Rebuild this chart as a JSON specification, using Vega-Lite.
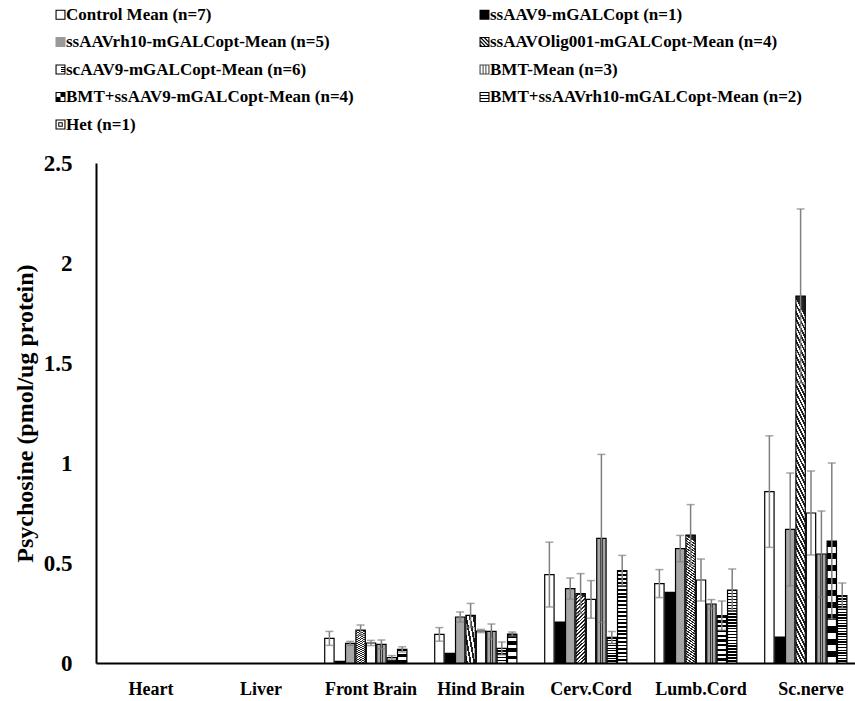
{
  "$schema": "https://vega.github.io/schema/vega-lite/v6.json",
  "width": 757,
  "height": 500,
  "autosize": {"type": "none"},
  "padding": {"left": 96, "top": 163, "right": 2, "bottom": 38},
  "background": "white",
  "config": {"font": "Liberation Serif", "view": {"stroke": null}},
  "data": {"values": [
    {"tissue": "Front Brain", "group": "Control Mean (n=7)", "mean": 0.123, "lo": 0.088, "hi": 0.158},
    {"tissue": "Front Brain", "group": "ssAAV9-mGALCopt (n=1)", "mean": 0.008},
    {"tissue": "Front Brain", "group": "ssAAVrh10-mGALCopt-Mean (n=5)", "mean": 0.098, "lo": 0.088, "hi": 0.108},
    {"tissue": "Front Brain", "group": "ssAAVOlig001-mGALCopt-Mean (n=4)", "mean": 0.165, "lo": 0.14, "hi": 0.19},
    {"tissue": "Front Brain", "group": "scAAV9-mGALCopt-Mean (n=6)", "mean": 0.1, "lo": 0.087, "hi": 0.113},
    {"tissue": "Front Brain", "group": "BMT-Mean (n=3)", "mean": 0.093, "lo": 0.071, "hi": 0.115},
    {"tissue": "Front Brain", "group": "BMT+ssAAV9-mGALCopt-Mean (n=4)", "mean": 0.027, "lo": 0.017, "hi": 0.037},
    {"tissue": "Front Brain", "group": "BMT+ssAAVrh10-mGALCopt-Mean (n=2)", "mean": 0.068, "lo": 0.055, "hi": 0.081},
    {"tissue": "Hind Brain", "group": "Control Mean (n=7)", "mean": 0.143, "lo": 0.109, "hi": 0.177},
    {"tissue": "Hind Brain", "group": "ssAAV9-mGALCopt (n=1)", "mean": 0.048},
    {"tissue": "Hind Brain", "group": "ssAAVrh10-mGALCopt-Mean (n=5)", "mean": 0.23, "lo": 0.205, "hi": 0.255},
    {"tissue": "Hind Brain", "group": "ssAAVOlig001-mGALCopt-Mean (n=4)", "mean": 0.238, "lo": 0.178, "hi": 0.298},
    {"tissue": "Hind Brain", "group": "scAAV9-mGALCopt-Mean (n=6)", "mean": 0.16, "lo": 0.152, "hi": 0.168},
    {"tissue": "Hind Brain", "group": "BMT-Mean (n=3)", "mean": 0.158, "lo": 0.121, "hi": 0.195},
    {"tissue": "Hind Brain", "group": "BMT+ssAAV9-mGALCopt-Mean (n=4)", "mean": 0.073, "lo": 0.041, "hi": 0.105},
    {"tissue": "Hind Brain", "group": "BMT+ssAAVrh10-mGALCopt-Mean (n=2)", "mean": 0.145, "lo": 0.135, "hi": 0.155},
    {"tissue": "Cerv.Cord", "group": "Control Mean (n=7)", "mean": 0.442, "lo": 0.28, "hi": 0.604},
    {"tissue": "Cerv.Cord", "group": "ssAAV9-mGALCopt (n=1)", "mean": 0.205},
    {"tissue": "Cerv.Cord", "group": "ssAAVrh10-mGALCopt-Mean (n=5)", "mean": 0.372, "lo": 0.319, "hi": 0.425},
    {"tissue": "Cerv.Cord", "group": "ssAAVOlig001-mGALCopt-Mean (n=4)", "mean": 0.347, "lo": 0.247, "hi": 0.447},
    {"tissue": "Cerv.Cord", "group": "scAAV9-mGALCopt-Mean (n=6)", "mean": 0.318, "lo": 0.224, "hi": 0.412},
    {"tissue": "Cerv.Cord", "group": "BMT-Mean (n=3)", "mean": 0.623, "lo": 0.203, "hi": 1.043},
    {"tissue": "Cerv.Cord", "group": "BMT+ssAAV9-mGALCopt-Mean (n=4)", "mean": 0.128, "lo": 0.098, "hi": 0.158},
    {"tissue": "Cerv.Cord", "group": "BMT+ssAAVrh10-mGALCopt-Mean (n=2)", "mean": 0.462, "lo": 0.386, "hi": 0.538},
    {"tissue": "Lumb.Cord", "group": "Control Mean (n=7)", "mean": 0.397, "lo": 0.327, "hi": 0.467},
    {"tissue": "Lumb.Cord", "group": "ssAAV9-mGALCopt (n=1)", "mean": 0.353},
    {"tissue": "Lumb.Cord", "group": "ssAAVrh10-mGALCopt-Mean (n=5)", "mean": 0.572, "lo": 0.506, "hi": 0.638},
    {"tissue": "Lumb.Cord", "group": "ssAAVOlig001-mGALCopt-Mean (n=4)", "mean": 0.64, "lo": 0.488, "hi": 0.792},
    {"tissue": "Lumb.Cord", "group": "scAAV9-mGALCopt-Mean (n=6)", "mean": 0.415, "lo": 0.31, "hi": 0.52},
    {"tissue": "Lumb.Cord", "group": "BMT-Mean (n=3)", "mean": 0.295, "lo": 0.273, "hi": 0.317},
    {"tissue": "Lumb.Cord", "group": "BMT+ssAAV9-mGALCopt-Mean (n=4)", "mean": 0.237, "lo": 0.164, "hi": 0.31},
    {"tissue": "Lumb.Cord", "group": "BMT+ssAAVrh10-mGALCopt-Mean (n=2)", "mean": 0.365, "lo": 0.26, "hi": 0.47},
    {"tissue": "Sc.nerve", "group": "Control Mean (n=7)", "mean": 0.857, "lo": 0.578, "hi": 1.136},
    {"tissue": "Sc.nerve", "group": "ssAAV9-mGALCopt (n=1)", "mean": 0.13},
    {"tissue": "Sc.nerve", "group": "ssAAVrh10-mGALCopt-Mean (n=5)", "mean": 0.668, "lo": 0.386, "hi": 0.95},
    {"tissue": "Sc.nerve", "group": "ssAAVOlig001-mGALCopt-Mean (n=4)", "mean": 1.835, "lo": 1.4, "hi": 2.27},
    {"tissue": "Sc.nerve", "group": "scAAV9-mGALCopt-Mean (n=6)", "mean": 0.75, "lo": 0.54, "hi": 0.96},
    {"tissue": "Sc.nerve", "group": "BMT-Mean (n=3)", "mean": 0.545, "lo": 0.33, "hi": 0.76},
    {"tissue": "Sc.nerve", "group": "BMT+ssAAV9-mGALCopt-Mean (n=4)", "mean": 0.61, "lo": 0.22, "hi": 1.0},
    {"tissue": "Sc.nerve", "group": "BMT+ssAAVrh10-mGALCopt-Mean (n=2)", "mean": 0.337, "lo": 0.274, "hi": 0.4}
  ]},
  "encoding": {
    "x": {
      "field": "tissue", "type": "nominal", "sort": null,
      "scale": {"domain": ["Heart", "Liver", "Front Brain", "Hind Brain", "Cerv.Cord", "Lumb.Cord", "Sc.nerve"], "range": [0, 770], "paddingInner": 0.149, "paddingOuter": 0.0745},
      "axis": {"title": null, "labelAngle": 0, "ticks": false, "domainColor": "black", "domainWidth": 2, "labelFont": "Liberation Serif", "labelFontSize": 18, "labelFontWeight": "bold", "labelColor": "black", "labelPadding": 17}
    },
    "xOffset": {
      "field": "group", "type": "nominal", "sort": null,
      "scale": {"domain": ["Control Mean (n=7)", "ssAAV9-mGALCopt (n=1)", "ssAAVrh10-mGALCopt-Mean (n=5)", "ssAAVOlig001-mGALCopt-Mean (n=4)", "scAAV9-mGALCopt-Mean (n=6)", "BMT-Mean (n=3)", "BMT+ssAAV9-mGALCopt-Mean (n=4)", "BMT+ssAAVrh10-mGALCopt-Mean (n=2)", "Het (n=1)"], "paddingInner": 0.1, "paddingOuter": 0.05}
    }
  },
  "layer": [
    {
      "mark": {"type": "bar", "stroke": "black", "strokeWidth": 1.2},
      "encoding": {
        "y": {
          "field": "mean", "type": "quantitative",
          "scale": {"domain": [0, 2.5], "nice": false},
          "axis": {"title": "Psychosine (pmol/ug protein)", "values": [0, 0.5, 1, 1.5, 2, 2.5], "format": "~g", "grid": false, "ticks": false, "domainColor": "black", "domainWidth": 2, "labelFont": "Liberation Serif", "labelFontSize": 23, "labelFontWeight": "bold", "labelColor": "black", "labelPadding": 24, "titleFont": "Liberation Serif", "titleFontSize": 24, "titleFontWeight": "bold", "titleColor": "black", "titlePadding": 6}
        },
        "fill": {
          "condition": [
            {"test": "datum.group === 'ssAAV9-mGALCopt (n=1)'", "value": "#000000"},
            {"test": "datum.group === 'ssAAVrh10-mGALCopt-Mean (n=5)'", "value": "#a6a6a6"},
            {"test": "datum.group === 'ssAAVOlig001-mGALCopt-Mean (n=4)'", "value": {"gradient": "linear", "x1": 0.05, "y1": 0, "x2": 0, "y2": 1, "stops": [
                {"offset":0,"color":"#222"},{"offset":0.01,"color":"#222"},{"offset":0.01,"color":"#fff"},{"offset":0.02,"color":"#fff"},
                {"offset":0.02,"color":"#222"},{"offset":0.03,"color":"#222"},{"offset":0.03,"color":"#fff"},{"offset":0.04,"color":"#fff"},
                {"offset":0.04,"color":"#222"},{"offset":0.05,"color":"#222"},{"offset":0.05,"color":"#fff"},{"offset":0.06,"color":"#fff"},
                {"offset":0.06,"color":"#222"},{"offset":0.07,"color":"#222"},{"offset":0.07,"color":"#fff"},{"offset":0.08,"color":"#fff"},
                {"offset":0.08,"color":"#222"},{"offset":0.09,"color":"#222"},{"offset":0.09,"color":"#fff"},{"offset":0.1,"color":"#fff"},
                {"offset":0.1,"color":"#222"},{"offset":0.11,"color":"#222"},{"offset":0.11,"color":"#fff"},{"offset":0.12,"color":"#fff"},
                {"offset":0.12,"color":"#222"},{"offset":0.13,"color":"#222"},{"offset":0.13,"color":"#fff"},{"offset":0.14,"color":"#fff"},
                {"offset":0.14,"color":"#222"},{"offset":0.15,"color":"#222"},{"offset":0.15,"color":"#fff"},{"offset":0.16,"color":"#fff"},
                {"offset":0.16,"color":"#222"},{"offset":0.17,"color":"#222"},{"offset":0.17,"color":"#fff"},{"offset":0.18,"color":"#fff"},
                {"offset":0.18,"color":"#222"},{"offset":0.19,"color":"#222"},{"offset":0.19,"color":"#fff"},{"offset":0.2,"color":"#fff"},
                {"offset":0.2,"color":"#222"},{"offset":0.21,"color":"#222"},{"offset":0.21,"color":"#fff"},{"offset":0.22,"color":"#fff"},
                {"offset":0.22,"color":"#222"},{"offset":0.23,"color":"#222"},{"offset":0.23,"color":"#fff"},{"offset":0.24,"color":"#fff"},
                {"offset":0.24,"color":"#222"},{"offset":0.25,"color":"#222"},{"offset":0.25,"color":"#fff"},{"offset":0.26,"color":"#fff"},
                {"offset":0.26,"color":"#222"},{"offset":0.27,"color":"#222"},{"offset":0.27,"color":"#fff"},{"offset":0.28,"color":"#fff"},
                {"offset":0.28,"color":"#222"},{"offset":0.29,"color":"#222"},{"offset":0.29,"color":"#fff"},{"offset":0.3,"color":"#fff"},
                {"offset":0.3,"color":"#222"},{"offset":0.31,"color":"#222"},{"offset":0.31,"color":"#fff"},{"offset":0.32,"color":"#fff"},
                {"offset":0.32,"color":"#222"},{"offset":0.33,"color":"#222"},{"offset":0.33,"color":"#fff"},{"offset":0.34,"color":"#fff"},
                {"offset":0.34,"color":"#222"},{"offset":0.35,"color":"#222"},{"offset":0.35,"color":"#fff"},{"offset":0.36,"color":"#fff"},
                {"offset":0.36,"color":"#222"},{"offset":0.37,"color":"#222"},{"offset":0.37,"color":"#fff"},{"offset":0.38,"color":"#fff"},
                {"offset":0.38,"color":"#222"},{"offset":0.39,"color":"#222"},{"offset":0.39,"color":"#fff"},{"offset":0.4,"color":"#fff"},
                {"offset":0.4,"color":"#222"},{"offset":0.41,"color":"#222"},{"offset":0.41,"color":"#fff"},{"offset":0.42,"color":"#fff"},
                {"offset":0.42,"color":"#222"},{"offset":0.43,"color":"#222"},{"offset":0.43,"color":"#fff"},{"offset":0.44,"color":"#fff"},
                {"offset":0.44,"color":"#222"},{"offset":0.45,"color":"#222"},{"offset":0.45,"color":"#fff"},{"offset":0.46,"color":"#fff"},
                {"offset":0.46,"color":"#222"},{"offset":0.47,"color":"#222"},{"offset":0.47,"color":"#fff"},{"offset":0.48,"color":"#fff"},
                {"offset":0.48,"color":"#222"},{"offset":0.49,"color":"#222"},{"offset":0.49,"color":"#fff"},{"offset":0.5,"color":"#fff"},
                {"offset":0.5,"color":"#222"},{"offset":0.51,"color":"#222"},{"offset":0.51,"color":"#fff"},{"offset":0.52,"color":"#fff"},
                {"offset":0.52,"color":"#222"},{"offset":0.53,"color":"#222"},{"offset":0.53,"color":"#fff"},{"offset":0.54,"color":"#fff"},
                {"offset":0.54,"color":"#222"},{"offset":0.55,"color":"#222"},{"offset":0.55,"color":"#fff"},{"offset":0.56,"color":"#fff"},
                {"offset":0.56,"color":"#222"},{"offset":0.57,"color":"#222"},{"offset":0.57,"color":"#fff"},{"offset":0.58,"color":"#fff"},
                {"offset":0.58,"color":"#222"},{"offset":0.59,"color":"#222"},{"offset":0.59,"color":"#fff"},{"offset":0.6,"color":"#fff"},
                {"offset":0.6,"color":"#222"},{"offset":0.61,"color":"#222"},{"offset":0.61,"color":"#fff"},{"offset":0.62,"color":"#fff"},
                {"offset":0.62,"color":"#222"},{"offset":0.63,"color":"#222"},{"offset":0.63,"color":"#fff"},{"offset":0.64,"color":"#fff"},
                {"offset":0.64,"color":"#222"},{"offset":0.65,"color":"#222"},{"offset":0.65,"color":"#fff"},{"offset":0.66,"color":"#fff"},
                {"offset":0.66,"color":"#222"},{"offset":0.67,"color":"#222"},{"offset":0.67,"color":"#fff"},{"offset":0.68,"color":"#fff"},
                {"offset":0.68,"color":"#222"},{"offset":0.69,"color":"#222"},{"offset":0.69,"color":"#fff"},{"offset":0.7,"color":"#fff"},
                {"offset":0.7,"color":"#222"},{"offset":0.71,"color":"#222"},{"offset":0.71,"color":"#fff"},{"offset":0.72,"color":"#fff"},
                {"offset":0.72,"color":"#222"},{"offset":0.73,"color":"#222"},{"offset":0.73,"color":"#fff"},{"offset":0.74,"color":"#fff"},
                {"offset":0.74,"color":"#222"},{"offset":0.75,"color":"#222"},{"offset":0.75,"color":"#fff"},{"offset":0.76,"color":"#fff"},
                {"offset":0.76,"color":"#222"},{"offset":0.77,"color":"#222"},{"offset":0.77,"color":"#fff"},{"offset":0.78,"color":"#fff"},
                {"offset":0.78,"color":"#222"},{"offset":0.79,"color":"#222"},{"offset":0.79,"color":"#fff"},{"offset":0.8,"color":"#fff"},
                {"offset":0.8,"color":"#222"},{"offset":0.81,"color":"#222"},{"offset":0.81,"color":"#fff"},{"offset":0.82,"color":"#fff"},
                {"offset":0.82,"color":"#222"},{"offset":0.83,"color":"#222"},{"offset":0.83,"color":"#fff"},{"offset":0.84,"color":"#fff"},
                {"offset":0.84,"color":"#222"},{"offset":0.85,"color":"#222"},{"offset":0.85,"color":"#fff"},{"offset":0.86,"color":"#fff"},
                {"offset":0.86,"color":"#222"},{"offset":0.87,"color":"#222"},{"offset":0.87,"color":"#fff"},{"offset":0.88,"color":"#fff"},
                {"offset":0.88,"color":"#222"},{"offset":0.89,"color":"#222"},{"offset":0.89,"color":"#fff"},{"offset":0.9,"color":"#fff"},
                {"offset":0.9,"color":"#222"},{"offset":0.91,"color":"#222"},{"offset":0.91,"color":"#fff"},{"offset":0.92,"color":"#fff"},
                {"offset":0.92,"color":"#222"},{"offset":0.93,"color":"#222"},{"offset":0.93,"color":"#fff"},{"offset":0.94,"color":"#fff"},
                {"offset":0.94,"color":"#222"},{"offset":0.95,"color":"#222"},{"offset":0.95,"color":"#fff"},{"offset":0.96,"color":"#fff"},
                {"offset":0.96,"color":"#222"},{"offset":0.97,"color":"#222"},{"offset":0.97,"color":"#fff"},{"offset":0.98,"color":"#fff"},
                {"offset":0.98,"color":"#222"},{"offset":0.99,"color":"#222"},{"offset":0.99,"color":"#fff"},{"offset":1,"color":"#fff"}
              ]}},
            {"test": "datum.group === 'BMT-Mean (n=3)'", "value": {"gradient": "linear", "x1": 0, "y1": 0, "x2": 1, "y2": 0, "stops": [
                {"offset":0,"color":"#a6a6a6"},{"offset":0.3,"color":"#a6a6a6"},{"offset":0.3,"color":"#333"},{"offset":0.45,"color":"#333"},
                {"offset":0.45,"color":"#a6a6a6"},{"offset":0.55,"color":"#a6a6a6"},{"offset":0.55,"color":"#333"},{"offset":0.7,"color":"#333"},
                {"offset":0.7,"color":"#a6a6a6"},{"offset":1,"color":"#a6a6a6"}
              ]}},
            {"test": "datum.group === 'BMT+ssAAV9-mGALCopt-Mean (n=4)'", "value": {"gradient": "linear", "x1": 0, "y1": 0, "x2": 0, "y2": 1, "stops": [
                {"offset":0,"color":"#000"},{"offset":0.05,"color":"#000"},{"offset":0.05,"color":"#fff"},{"offset":0.1,"color":"#fff"},
                {"offset":0.1,"color":"#000"},{"offset":0.15,"color":"#000"},{"offset":0.15,"color":"#fff"},{"offset":0.2,"color":"#fff"},
                {"offset":0.2,"color":"#000"},{"offset":0.25,"color":"#000"},{"offset":0.25,"color":"#fff"},{"offset":0.3,"color":"#fff"},
                {"offset":0.3,"color":"#000"},{"offset":0.35,"color":"#000"},{"offset":0.35,"color":"#fff"},{"offset":0.4,"color":"#fff"},
                {"offset":0.4,"color":"#000"},{"offset":0.45,"color":"#000"},{"offset":0.45,"color":"#fff"},{"offset":0.5,"color":"#fff"},
                {"offset":0.5,"color":"#000"},{"offset":0.55,"color":"#000"},{"offset":0.55,"color":"#fff"},{"offset":0.6,"color":"#fff"},
                {"offset":0.6,"color":"#000"},{"offset":0.65,"color":"#000"},{"offset":0.65,"color":"#fff"},{"offset":0.7,"color":"#fff"},
                {"offset":0.7,"color":"#000"},{"offset":0.75,"color":"#000"},{"offset":0.75,"color":"#fff"},{"offset":0.8,"color":"#fff"},
                {"offset":0.8,"color":"#000"},{"offset":0.85,"color":"#000"},{"offset":0.85,"color":"#fff"},{"offset":0.9,"color":"#fff"},
                {"offset":0.9,"color":"#000"},{"offset":0.95,"color":"#000"},{"offset":0.95,"color":"#fff"},{"offset":1,"color":"#fff"}
              ]}},
            {"test": "datum.group === 'BMT+ssAAVrh10-mGALCopt-Mean (n=2)'", "value": {"gradient": "linear", "x1": 0, "y1": 0, "x2": 0, "y2": 1, "stops": [
                {"offset":0,"color":"#000"},{"offset":0.02,"color":"#000"},{"offset":0.02,"color":"#fff"},{"offset":0.04,"color":"#fff"},
                {"offset":0.04,"color":"#000"},{"offset":0.06,"color":"#000"},{"offset":0.06,"color":"#fff"},{"offset":0.08,"color":"#fff"},
                {"offset":0.08,"color":"#000"},{"offset":0.1,"color":"#000"},{"offset":0.1,"color":"#fff"},{"offset":0.12,"color":"#fff"},
                {"offset":0.12,"color":"#000"},{"offset":0.14,"color":"#000"},{"offset":0.14,"color":"#fff"},{"offset":0.16,"color":"#fff"},
                {"offset":0.16,"color":"#000"},{"offset":0.18,"color":"#000"},{"offset":0.18,"color":"#fff"},{"offset":0.2,"color":"#fff"},
                {"offset":0.2,"color":"#000"},{"offset":0.22,"color":"#000"},{"offset":0.22,"color":"#fff"},{"offset":0.24,"color":"#fff"},
                {"offset":0.24,"color":"#000"},{"offset":0.26,"color":"#000"},{"offset":0.26,"color":"#fff"},{"offset":0.28,"color":"#fff"},
                {"offset":0.28,"color":"#000"},{"offset":0.3,"color":"#000"},{"offset":0.3,"color":"#fff"},{"offset":0.32,"color":"#fff"},
                {"offset":0.32,"color":"#000"},{"offset":0.34,"color":"#000"},{"offset":0.34,"color":"#fff"},{"offset":0.36,"color":"#fff"},
                {"offset":0.36,"color":"#000"},{"offset":0.38,"color":"#000"},{"offset":0.38,"color":"#fff"},{"offset":0.4,"color":"#fff"},
                {"offset":0.4,"color":"#000"},{"offset":0.42,"color":"#000"},{"offset":0.42,"color":"#fff"},{"offset":0.44,"color":"#fff"},
                {"offset":0.44,"color":"#000"},{"offset":0.46,"color":"#000"},{"offset":0.46,"color":"#fff"},{"offset":0.48,"color":"#fff"},
                {"offset":0.48,"color":"#000"},{"offset":0.5,"color":"#000"},{"offset":0.5,"color":"#fff"},{"offset":0.52,"color":"#fff"},
                {"offset":0.52,"color":"#000"},{"offset":0.54,"color":"#000"},{"offset":0.54,"color":"#fff"},{"offset":0.56,"color":"#fff"},
                {"offset":0.56,"color":"#000"},{"offset":0.58,"color":"#000"},{"offset":0.58,"color":"#fff"},{"offset":0.6,"color":"#fff"},
                {"offset":0.6,"color":"#000"},{"offset":0.62,"color":"#000"},{"offset":0.62,"color":"#fff"},{"offset":0.64,"color":"#fff"},
                {"offset":0.64,"color":"#000"},{"offset":0.66,"color":"#000"},{"offset":0.66,"color":"#fff"},{"offset":0.68,"color":"#fff"},
                {"offset":0.68,"color":"#000"},{"offset":0.7,"color":"#000"},{"offset":0.7,"color":"#fff"},{"offset":0.72,"color":"#fff"},
                {"offset":0.72,"color":"#000"},{"offset":0.74,"color":"#000"},{"offset":0.74,"color":"#fff"},{"offset":0.76,"color":"#fff"},
                {"offset":0.76,"color":"#000"},{"offset":0.78,"color":"#000"},{"offset":0.78,"color":"#fff"},{"offset":0.8,"color":"#fff"},
                {"offset":0.8,"color":"#000"},{"offset":0.82,"color":"#000"},{"offset":0.82,"color":"#fff"},{"offset":0.84,"color":"#fff"},
                {"offset":0.84,"color":"#000"},{"offset":0.86,"color":"#000"},{"offset":0.86,"color":"#fff"},{"offset":0.88,"color":"#fff"},
                {"offset":0.88,"color":"#000"},{"offset":0.9,"color":"#000"},{"offset":0.9,"color":"#fff"},{"offset":0.92,"color":"#fff"},
                {"offset":0.92,"color":"#000"},{"offset":0.94,"color":"#000"},{"offset":0.94,"color":"#fff"},{"offset":0.96,"color":"#fff"},
                {"offset":0.96,"color":"#000"},{"offset":0.98,"color":"#000"},{"offset":0.98,"color":"#fff"},{"offset":1,"color":"#fff"}
              ]}}
          ],
          "value": "#ffffff"
        }
      }
    },
    {
      "transform": [{"filter": "false"}],
      "mark": {"type": "point", "filled": true, "opacity": 1},
      "encoding": {
        "y": {"field": "mean", "type": "quantitative"},
        "fill": {
          "field": "group", "type": "nominal", "sort": null,
          "scale": {
            "domain": ["Control Mean (n=7)", "ssAAVrh10-mGALCopt-Mean (n=5)", "scAAV9-mGALCopt-Mean (n=6)", "BMT+ssAAV9-mGALCopt-Mean (n=4)", "Het (n=1)", "ssAAV9-mGALCopt (n=1)", "ssAAVOlig001-mGALCopt-Mean (n=4)", "BMT-Mean (n=3)", "BMT+ssAAVrh10-mGALCopt-Mean (n=2)"],
            "range": ["#000000", "#999999", "#000000", "#000000", "#000000", "#000000", "#000000", "#444444", "#000000"]
          },
          "legend": {"orient": "none", "legendX": -44, "legendY": -157, "columns": 2, "title": null, "symbolSize": 100, "symbolStrokeWidth": 0, "symbolOpacity": 1, "labelFont": "Liberation Serif", "labelFontSize": 17, "labelFontWeight": "bold", "labelColor": "black", "labelOffset": -3, "columnPadding": 122, "rowPadding": 9.5, "labelLimit": 400}
        },
        "shape": {
          "field": "group", "type": "nominal", "sort": null,
          "scale": {
            "domain": ["Control Mean (n=7)", "ssAAVrh10-mGALCopt-Mean (n=5)", "scAAV9-mGALCopt-Mean (n=6)", "BMT+ssAAV9-mGALCopt-Mean (n=4)", "Het (n=1)", "ssAAV9-mGALCopt (n=1)", "ssAAVOlig001-mGALCopt-Mean (n=4)", "BMT-Mean (n=3)", "BMT+ssAAVrh10-mGALCopt-Mean (n=2)"],
            "range": [
              "M-1,-1H1V1H-1Z M-0.78,-0.78V0.78H0.78V-0.78Z",
              "M-1,-1H1V1H-1Z",
              "M-1,-1H1V1H-1Z M-0.78,-0.78V0.78H0.78V-0.78Z M0.1,-0.5H0.78V-0.32H0.1Z M0.1,-0.09H0.78V0.09H0.1Z M0.1,0.32H0.78V0.5H0.1Z",
              "M-1,-1H1V1H-1Z M-0.78,-0.78V0H0V-0.78Z M0,0V0.78H0.78V0Z",
              "M-1,-1H1V1H-1Z M-0.78,-0.78V0.78H0.78V-0.78Z M-0.45,-0.45H0.45V0.45H-0.45Z M-0.25,-0.25V0.25H0.25V-0.25Z",
              "M-1,-1H1V1H-1Z",
              "M-1,-1H1V1H-1Z M-0.53,-0.78L0.78,0.53L0.78,0.13L-0.13,-0.78Z M-0.78,-0.68L-0.78,-0.28L0.28,0.78L0.68,0.78Z M-0.78,0.07L-0.78,0.47L-0.47,0.78L-0.07,0.78Z M0.22,-0.78L0.78,-0.22L0.78,-0.78Z",
              "M-1,-1H1V1H-1Z M-0.78,-0.78V0.78H-0.38V-0.78Z M-0.18,-0.78V0.78H0.18V-0.78Z M0.38,-0.78V0.78H0.78V-0.78Z",
              "M-1,-1H1V1H-1Z M-0.78,-0.78V-0.38H0.78V-0.78Z M-0.78,-0.18V0.18H0.78V-0.18Z M-0.78,0.38V0.78H0.78V0.38Z"
            ]
          },
          "legend": {"orient": "none", "legendX": -44, "legendY": -157, "columns": 2, "title": null, "symbolSize": 100, "symbolStrokeWidth": 0, "symbolOpacity": 1, "labelFont": "Liberation Serif", "labelFontSize": 17, "labelFontWeight": "bold", "labelColor": "black", "labelOffset": -3, "columnPadding": 122, "rowPadding": 9.5, "labelLimit": 400}
        }
      }
    },
    {
      "transform": [{"filter": "datum.hi != null"}],
      "mark": {"type": "rule", "color": "#808080", "strokeWidth": 1.5},
      "encoding": {"y": {"field": "lo", "type": "quantitative"}, "y2": {"field": "hi"}}
    },
    {
      "transform": [{"filter": "datum.hi != null"}],
      "mark": {"type": "tick", "color": "#808080", "thickness": 1.5, "size": 8},
      "encoding": {"y": {"field": "hi", "type": "quantitative"}}
    },
    {
      "transform": [{"filter": "datum.hi != null"}],
      "mark": {"type": "tick", "color": "#808080", "thickness": 1.5, "size": 8},
      "encoding": {"y": {"field": "lo", "type": "quantitative"}}
    }
  ]
}
